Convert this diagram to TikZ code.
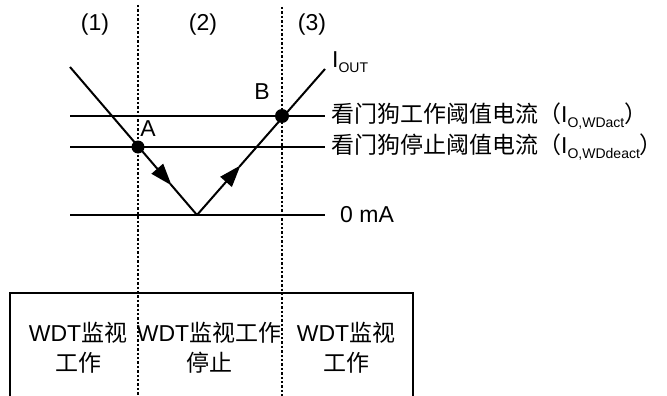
\documentclass[tikz,border=0pt]{standalone}
\usepackage{fontspec}
\setmainfont{Liberation Sans}
\newfontfamily\cjk{Noto Sans CJK SC}
\usepackage{tikz}
\usetikzlibrary{arrows.meta,calc}
\newcommand\lowsub[1]{\raisebox{-0.4ex}{\fontsize{14}{14}\selectfont #1}}

\begin{document}
\begin{tikzpicture}[x=1pt,y=-1pt,
  txt/.style={font=\fontsize{23}{30}\selectfont, inner sep=0pt},
  curve/.style={line width=2pt},
  divider/.style={line width=2.4pt, dotted},
  flowtip/.style={-{Triangle[length=22pt,width=15pt]}, line width=2pt}]
  \useasboundingbox (0,0) rectangle (667,396);

  % phase labels and dividers
  \draw (95,25)  node[txt] (p1) {(1)};
  \draw (203,25) node[txt] (p2) {(2)};
  \draw (312,25) node[txt] (p3) {(3)};
  \coordinate (d1t) at (138,5);   \coordinate (d1b) at (138,396);
  \coordinate (d2t) at (282,7);   \coordinate (d2b) at (282,396);
  \draw[divider] (d1t) -- (d1b);
  \draw[divider] (d2t) -- (d2b);

  % current levels
  \coordinate (act1) at (70,116);   \coordinate (act2) at (325,116);
  \coordinate (deact1) at (70,147); \coordinate (deact2) at (325,147);
  \coordinate (zero1) at (70,215);  \coordinate (zero2) at (325,215);
  \draw[curve] (act1) -- (act2);
  \draw[curve] (deact1) -- (deact2);
  \draw[curve] (zero1) -- (zero2);
  \draw (331,116) node[txt,anchor=west] (lact) {{\cjk 看门狗工作阈值电流（}I\lowsub{O,WDact}{\cjk ）}};
  \draw (331,147) node[txt,anchor=west] (ldeact) {{\cjk 看门狗停止阈值电流（}I\lowsub{O,WDdeact}{\cjk ）}};
  \draw (340,215) node[txt,anchor=west] (lzero) {0 mA};

  % I_OUT
  \coordinate (in) at (70,67);
  \coordinate (low) at (197,215);
  \coordinate (out) at (325,69);
  \draw[flowtip] (in) -- ($(in)!0.8!(low)$);
  \draw[curve] ($(in)!0.79!(low)$) -- (low);
  \draw[flowtip] (low) -- ($(low)!0.34!(out)$);
  \draw[curve] ($(low)!0.33!(out)$) -- (out);
  \draw (332,62) node[txt,anchor=west] (lout) {I\lowsub{OUT}};

  \fill (138,147) circle (6.5) node (A) {};
  \fill (282,116) circle (7) node (B) {};
  \draw (148,129) node[txt] (la) {A};
  \draw (262,92)  node[txt] (lb) {B};

  % mode box
  \coordinate (bx1) at (10,397);  \coordinate (bx2) at (10,293);
  \coordinate (bx3) at (413,293); \coordinate (bx4) at (413,397);
  \draw[line width=1.5pt] (bx1) -- (bx2) -- (bx3) -- (bx4);
  \draw (78,348)  node[txt,align=center] (m1) {WDT{\cjk 监视}\\{\cjk 工作}};
  \draw (209,348) node[txt,align=center] (m2) {WDT{\cjk 监视工作}\\{\cjk 停止}};
  \draw (346,348) node[txt,align=center] (m3) {WDT{\cjk 监视}\\{\cjk 工作}};
\end{tikzpicture}
\end{document}
